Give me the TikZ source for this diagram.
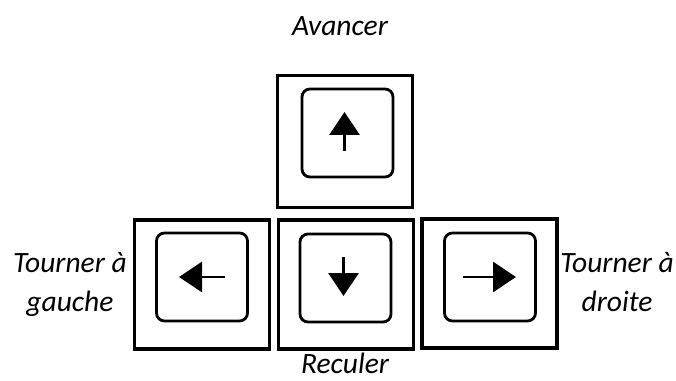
\documentclass[tikz,border=0pt]{standalone}
\usepackage{fontspec}
\setmainfont{Carlito}
\usetikzlibrary{arrows.meta, positioning}

\begin{document}
\begin{tikzpicture}[
    x=1pt, y=1pt,
    font=\fontsize{29.5}{39}\selectfont\itshape,
    touche/.style={draw, line width=3.4pt, minimum width=135pt,
                   minimum height=132pt, inner sep=0pt},
    capuchon/.style={draw, line width=2.8pt, rounded corners=8pt,
                     minimum width=91pt, minimum height=88pt, inner sep=0pt},
    fleche/.style={-{Triangle[length=23pt,width=30pt]}, line width=2.8pt},
    etiquette/.style={align=center, inner sep=0pt}
  ]
    \useasboundingbox (0,0) rectangle (676,380);

    % les quatre touches
    \node[touche] (tHaut) at (345,238.5) {};
    \node[touche, minimum height=129pt] (tGauche) at (202,95.5) {};
    \node[touche, minimum height=129pt] (tBas) at (346,95.5) {};
    \node[touche, minimum height=129pt] (tDroite) at (489.5,96.5) {};

    \node[capuchon] (cHaut) at (347.5,247) {};
    \node[capuchon] (cGauche) at (202,103) {};
    \node[capuchon] (cBas) at (345.5,102) {};
    \node[capuchon] (cDroite) at (490,103) {};

    % fleches
    \draw[fleche] ([xshift=-3pt,yshift=-18pt]cHaut.center) -- ([xshift=-3pt,yshift=21pt]cHaut.center);
    \draw[fleche] ([xshift=23pt]cGauche.center) -- ([xshift=-23pt]cGauche.center);
    \draw[fleche] ([xshift=-2pt,yshift=21pt]cBas.center) -- ([xshift=-2pt,yshift=-18pt]cBas.center);
    \draw[fleche] ([xshift=-27pt]cDroite.center) -- ([xshift=26pt]cDroite.center);

    % textes
    \node[etiquette, anchor=base] (lAvancer) at (340,344) {Avancer};
    \node[etiquette, anchor=base] (lReculer) at (345,7) {Reculer};
    \node[etiquette] (lGauche) at (70,96) {Tourner à\\gauche};
    \node[etiquette] (lDroite) at (617,98) {Tourner à\\droite};
\end{tikzpicture}
\end{document}
